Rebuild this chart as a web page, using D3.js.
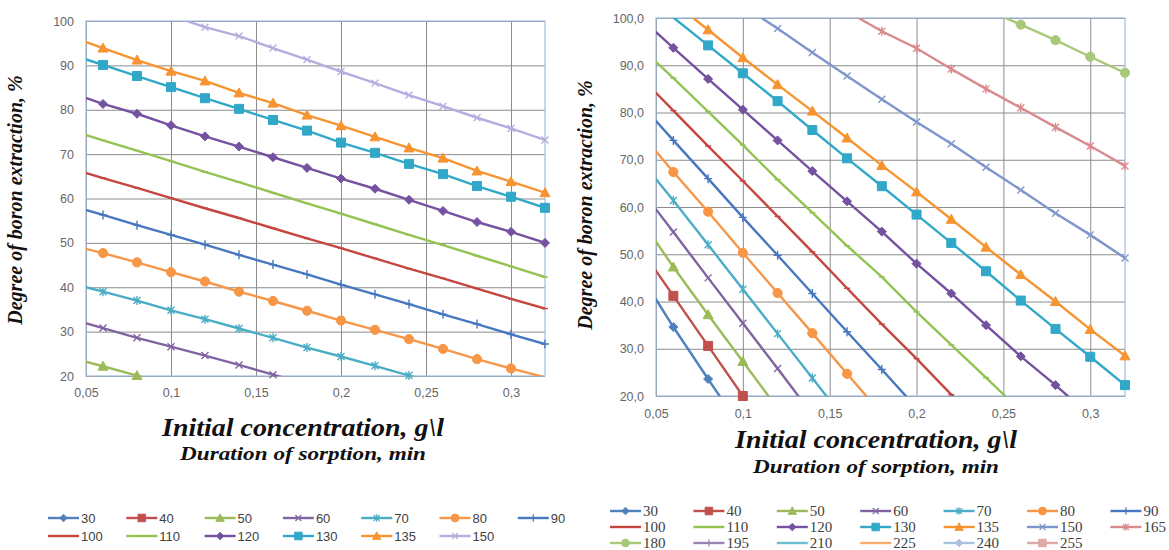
<!DOCTYPE html>
<html>
<head>
<meta charset="utf-8">
<script src="https://cdn.jsdelivr.net/npm/d3@7"></script>
<style>
body{margin:0;background:#fff;}
svg{display:block;}
</style>
</head>
<body>
<svg id="svg1" width="1169" height="550"></svg>
<script>
// initial concentration, g/l (0.04 sits left of the axis start, only the line reaches in)
var conc = [0.04,0.06,0.08,0.10,0.12,0.14,0.16,0.18,0.20,0.22,0.24,0.26,0.28,0.30,0.32];

var x_ticks = [0.05,0.1,0.15,0.2,0.25,0.3];
var y_ticks = [20,30,40,50,60,70,80,90,100];

// sorption time, min
var names_left  = ["30","40","50","60","70","80","90","100","110","120","130","135","150"];
var names_right = ["30","40","50","60","70","80","90","100","110","120","130","135","150","165","180","195","210","225","240","255"];

// left chart, degree of extraction %  (30 and 40 stay under 20 % everywhere)
var L30  = [];
var L40  = [];
var L50  = [24.2,22.2,20.1,18.0,16.0];
var L60  = [33.0,30.8,28.6,26.6,24.6,22.5,20.3,18.2];
var L70  = [41.0,39.0,37.0,34.8,32.8,30.7,28.6,26.4,24.4,22.3,20.1,18.0];
var L80  = [49.6,47.7,45.6,43.4,41.3,39.0,36.9,34.7,32.5,30.4,28.3,26.1,23.8,21.7,19.7];
var L90  = [58.5,56.3,54.0,51.8,49.6,47.3,45.1,42.9,40.6,38.4,36.2,33.9,31.7,29.4,27.2];
var L100 = [66.9,64.6,62.4,60.1,57.8,55.6,53.3,51.0,48.8,46.5,44.2,42.0,39.7,37.4,35.2];
var L110 = [75.5,73.1,70.8,68.4,66.0,63.7,61.3,58.9,56.6,54.2,51.8,49.5,47.1,44.7,42.3];
var L120 = [84.0,81.3,79.1,76.5,74.0,71.7,69.3,66.9,64.5,62.2,59.7,57.2,54.7,52.5,50.0];
var L130 = [92.6,90.1,87.6,85.1,82.6,80.2,77.7,75.3,72.6,70.3,67.8,65.5,62.8,60.4,57.9];
var L135 = [96.6,93.9,91.2,88.7,86.5,83.8,81.5,78.8,76.4,73.9,71.4,69.1,66.2,63.8,61.3];
var L150 = [108.8,106.2,103.7,101.2,98.6,96.6,93.9,91.3,88.6,86.0,83.3,80.8,78.2,75.8,73.2];

// right chart (195..255 stay above 100 % everywhere)
var R30  = [46.3,34.6,23.6,12.7];
var R40  = [51.8,41.2,30.6,20.0,9.4];
var R50  = [58.0,47.3,37.2,27.3,17.4];
var R60  = [64.3,54.7,45.0,35.4,25.8,16.1];
var R70  = [70.4,61.4,52.0,42.6,33.2,23.8,14.4];
var R80  = [76.1,67.4,59.0,50.3,41.8,33.3,24.7,16.2];
var R90  = [82.3,74.1,66.0,57.8,49.8,41.7,33.6,25.6,17.5];
var R100 = [87.9,80.4,72.9,65.5,58.0,50.5,42.8,35.2,27.9,20.3,12.8];
var R110 = [94.1,87.3,80.2,73.1,65.8,58.8,51.8,45.2,37.8,30.8,23.9,16.8];
var R120 = [100.3,93.7,87.1,80.6,74.1,67.6,61.2,54.8,48.0,41.7,35.0,28.4,22.3,15.8];
var R130 = [106.0,100.1,94.2,88.3,82.4,76.3,70.3,64.4,58.4,52.4,46.4,40.2,34.2,28.3,22.3];
var R135 = [109.0,103.3,97.5,91.6,85.9,80.3,74.6,68.8,63.2,57.4,51.5,45.7,40.0,34.1,28.5];
var R150 = [117.8,112.6,107.6,102.6,97.8,92.7,87.7,82.8,78.0,73.4,68.4,63.6,58.7,54.1,49.2];
var R165 = [126.5,122.3,118.1,113.9,109.7,105.5,101.4,97.2,93.6,89.2,85.0,81.0,76.9,72.9,68.7];
var R180 = [null,null,null,null,null,null,null,null,null,105.0,101.8,98.6,95.3,91.8,88.4];
var R195 = [];
var R210 = [];
var R225 = [];
var R240 = [];
var R255 = [];

var values_left  = [L30,L40,L50,L60,L70,L80,L90,L100,L110,L120,L130,L135,L150];
var values_right = [R30,R40,R50,R60,R70,R80,R90,R100,R110,R120,R130,R135,R150,R165,R180,R195,R210,R225,R240,R255];

// series look (excel default order)
var colors = {
    "30":"#4f81bd","40":"#c0504d","50":"#9bbb59","60":"#8064a2","70":"#4bacc6","80":"#f79646",
    "90":"#4677bf","100":"#c4463f","110":"#92c353","120":"#7452a0","130":"#31a8c8","135":"#f79430",
    "150":"#7f96cc","165":"#d98a8e","180":"#a9c97a","195":"#9983b5","210":"#6fbdd1","225":"#f9ab6b",
    "240":"#a8c0e0","255":"#e0a8a8"
};
var marks = ["diamond","square","triangle","x","star","circle","plus","dash","dash"];

var shapes = {
    diamond: "M0,-4.5L4.5,0L0,4.5L-4.5,0Z",
    square: "M-4.5,-4.5h9v9h-9Z",
    triangle: "M0,-5L5,4L-5,4Z",
    x: "M-3.5,-3.5L3.5,3.5M-3.5,3.5L3.5,-3.5",
    star: "M-3.5,-3.5L3.5,3.5M-3.5,3.5L3.5,-3.5M0,-4.5L0,4.5",
    plus: "M0,-4.5L0,4.5M-4,0L4,0",
    dash: "M-3,0L3,0"
};

var svg = d3.select("#svg1");

function drawMarker(g, kind, color, x, y, k){
    if(kind == "circle"){
        g.append("circle").attr("cx", x).attr("cy", y).attr("r", 4.6*k)
            .attr("fill", color).attr("stroke", color);
        return;
    }
    var filled = (kind == "diamond" || kind == "square" || kind == "triangle");
    g.append("path")
        .attr("d", shapes[kind])
        .attr("transform", "translate(" + x + "," + y + ") scale(" + k + ")")
        .attr("fill", filled ? color : "none")
        .attr("stroke", color)
        .attr("stroke-width", filled ? 1 : 1.4);
}

function drawPanel(p){
    var x = d3.scaleLinear().domain([0.05,0.32]).range([p.left, p.right]);
    var y = d3.scaleLinear().domain([20,100]).range([p.bottom, p.top]);
    var w = p.right - p.left, h = p.bottom - p.top;

    var gy = svg.append("g").attr("transform", "translate(" + p.left + ",0)")
        .call(d3.axisLeft(y).tickValues(y_ticks).tickSize(-w).tickPadding(p.padY).tickFormat(p.fmtY));
    var gx = svg.append("g").attr("transform", "translate(0," + p.bottom + ")")
        .call(d3.axisBottom(x).tickValues(x_ticks).tickSize(-h).tickPadding(p.padX)
            .tickFormat(function(d){ return String(d).replace(".", ","); }));
    [gy, gx].forEach(function(g){
        g.select(".domain").remove();
        g.selectAll(".tick line").attr("stroke", "#8c8c8c").attr("stroke-width", 1);
        g.selectAll(".tick text").attr("fill", "#666").attr("font-family", "Liberation Sans, Arial, sans-serif")
            .attr("font-size", 12.5);
    });
    svg.append("rect").attr("x", p.left).attr("y", p.top).attr("width", w).attr("height", h)
        .attr("fill", "none").attr("stroke", "#a3bbdc").attr("stroke-width", 1.2);

    svg.append("clipPath").attr("id", p.id + "_clip").append("rect")
        .attr("x", p.left).attr("y", p.top).attr("width", w).attr("height", h);

    var line = d3.line()
        .defined(function(d){ return d[1] != null; })
        .x(function(d){ return x(d[0]); })
        .y(function(d){ return y(d[1]); });

    p.names.forEach(function(name, i){
        var pts = p.values[i].map(function(v, j){ return [conc[j], v]; });
        var color = (p.colors && p.colors[name]) || colors[name];
        var kind = marks[i % 9];
        svg.append("path").datum(pts)
            .attr("d", line)
            .attr("clip-path", "url(#" + p.id + "_clip)")
            .attr("fill", "none").attr("stroke", color).attr("stroke-width", 2.4);
        var gm = svg.append("g");
        pts.forEach(function(d){
            if(d[1] == null || d[0] < 0.05 || d[1] < 20 || d[1] > 100) return;
            drawMarker(gm, kind, color, x(d[0]), y(d[1]), 1);
        });
    });

    // axis titles
    svg.append("text")
        .attr("transform", "translate(" + p.titleY[0] + "," + p.titleY[1] + ") rotate(-90)")
        .attr("text-anchor", "middle")
        .attr("font-family", "Liberation Serif, serif").attr("font-style", "italic").attr("font-weight", "bold")
        .attr("font-size", 20).attr("fill", "#111")
        .text("Degree of boron extraction, %");
    svg.append("text")
        .attr("x", p.titleX[0]).attr("y", p.titleX[1])
        .attr("text-anchor", "middle")
        .attr("font-family", "Liberation Serif, serif").attr("font-style", "italic").attr("font-weight", "bold")
        .attr("font-size", 26).attr("fill", "#111")
        .attr("textLength", 282).attr("lengthAdjust", "spacingAndGlyphs")
        .text("Initial concentration, g\\l");
    svg.append("text")
        .attr("x", p.titleX[0]).attr("y", p.titleX[2])
        .attr("text-anchor", "middle")
        .attr("font-family", "Liberation Serif, serif").attr("font-style", "italic").attr("font-weight", "bold")
        .attr("font-size", 18).attr("fill", "#111")
        .attr("textLength", 246).attr("lengthAdjust", "spacingAndGlyphs")
        .text("Duration of sorption, min");

    // legend
    p.names.forEach(function(name, i){
        var col = i % 7, row = Math.floor(i / 7);
        var lx = p.legend.x + col * p.legend.dx, ly = p.legend.rows[row];
        var color = (p.colors && p.colors[name]) || colors[name];
        var g = svg.append("g");
        g.append("line").attr("x1", lx).attr("x2", lx + 31).attr("y1", ly).attr("y2", ly)
            .attr("stroke", color).attr("stroke-width", 2.4);
        drawMarker(g, marks[i % 9], color, lx + 15.5, ly, 0.85);
        g.append("text").attr("x", lx + 33).attr("y", ly).attr("dy", "0.35em")
            .attr("font-family", p.legend.font).attr("font-size", p.legend.size).attr("fill", "#404040")
            .text(name);
    });
}

drawPanel({
    id: "left", left: 86, right: 545, top: 21, bottom: 376,
    names: names_left, values: values_left,
    colors: {"150":"#b3aee0"},
    fmtY: function(d){ return d; }, padY: 12, padX: 12,
    titleY: [22, 200], titleX: [303, 436, 460],
    legend: {x: 48, dx: 78.3, rows: [518, 536], font: "Liberation Sans, Arial, sans-serif", size: 13}
});
drawPanel({
    id: "right", left: 656, right: 1125, top: 18, bottom: 396,
    names: names_right, values: values_right,
    fmtY: function(d){ return d.toFixed(1).replace(".", ","); }, padY: 12, padX: 13,
    titleY: [592, 205], titleX: [876, 448, 473],
    legend: {x: 610, dx: 83.4, rows: [511, 527, 543], font: "Liberation Serif, serif", size: 15}
});
</script>
</body>
</html>
